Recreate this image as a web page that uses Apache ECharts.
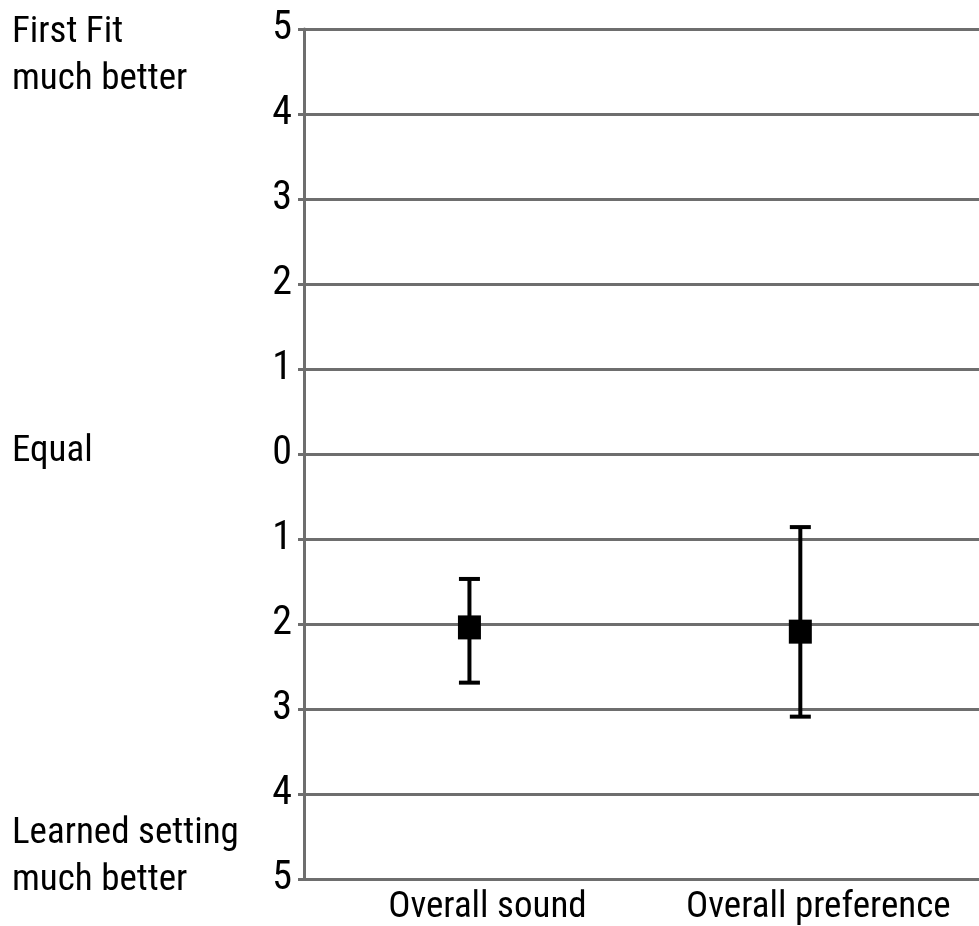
<!DOCTYPE html>
<html><head><meta charset="utf-8">
<script src="https://cdn.jsdelivr.net/npm/echarts@6/dist/echarts.min.js"></script>
<style>html,body{margin:0;padding:0;background:#fff}#c{width:979px;height:926px}</style>
</head><body><div id="c"></div>
<script>
const categories = ['Overall sound', 'Overall preference'];
const means = [-2.04, -2.09];
const upper = [-1.47, -0.86];
const lower = [-2.69, -3.09];
const yTicks = [-5, -4, -3, -2, -1, 0, 1, 2, 3, 4, 5];
const sideLabels = [
  { text: 'First Fit\nmuch better', value: 5, shift: 27 },
  { text: 'Equal', value: 0, shift: -2 },
  { text: 'Learned setting\nmuch better', value: -5, shift: -22 }
];

const chart = echarts.init(document.getElementById('c'));
const FONT = 'Roboto Condensed';
const GREY = '#6e6e6e';

const pts = categories.map((c, i) => [i + 1, means[i]]);
const errs = categories.map((c, i) => [i + 1, lower[i], upper[i]]);

chart.setOption({
  animation: false,
  grid: { left: 304, right: 0, top: 29, bottom: 47 },
  xAxis: {
    type: 'value', min: 0.5, max: 2.54,
    axisLine: { show: true, lineStyle: { color: GREY, width: 3 } },
    axisTick: { show: false },
    splitLine: { show: false },
    axisLabel: {
      customValues: [1, 2],
      formatter: v => categories[Math.round(v) - 1] || '',
      color: '#000', fontFamily: FONT, fontSize: 37, margin: 10,
      padding: [0, 0, 0, 36]
    }
  },
  yAxis: {
    type: 'value', min: -5, max: 5, interval: 1,
    axisLine: { show: true, lineStyle: { color: GREY, width: 3 } },
    axisTick: { show: true, length: 6, lineStyle: { color: GREY, width: 3 } },
    splitLine: { show: true, lineStyle: { color: GREY, width: 3 } },
    axisLabel: {
      formatter: v => yTicks.includes(v) ? String(Math.abs(v)) : '',
      color: '#000', fontFamily: FONT, fontSize: 40, margin: 12
    }
  },
  series: [
    {
      type: 'custom',
      data: errs,
      z: 3,
      renderItem: function (params, api) {
        const x = api.value(0);
        const lo = api.coord([x, api.value(1)]);
        const hi = api.coord([x, api.value(2)]);
        const hw = 10.5;
        const st = { stroke: '#000', lineWidth: 4 };
        return {
          type: 'group',
          children: [
            { type: 'line', shape: { x1: lo[0], y1: lo[1], x2: hi[0], y2: hi[1] }, style: st },
            { type: 'line', shape: { x1: lo[0] - hw, y1: lo[1], x2: lo[0] + hw, y2: lo[1] }, style: st },
            { type: 'line', shape: { x1: hi[0] - hw, y1: hi[1], x2: hi[0] + hw, y2: hi[1] }, style: st }
          ]
        };
      }
    },
    {
      type: 'scatter',
      data: pts,
      symbol: 'rect',
      symbolSize: [23, 24],
      z: 4,
      itemStyle: { color: '#000', opacity: 1 }
    }
  ]
});

const yAt = v => chart.convertToPixel({ yAxisIndex: 0 }, v);
chart.setOption({
  graphic: sideLabels.map(s => ({
    type: 'text',
    x: 12,
    y: yAt(s.value) + s.shift,
    style: {
      text: s.text,
      font: '37px "Roboto Condensed"',
      fill: '#000',
      lineHeight: 47,
      verticalAlign: 'middle',
      align: 'left'
    }
  }))
});
</script></body></html>
